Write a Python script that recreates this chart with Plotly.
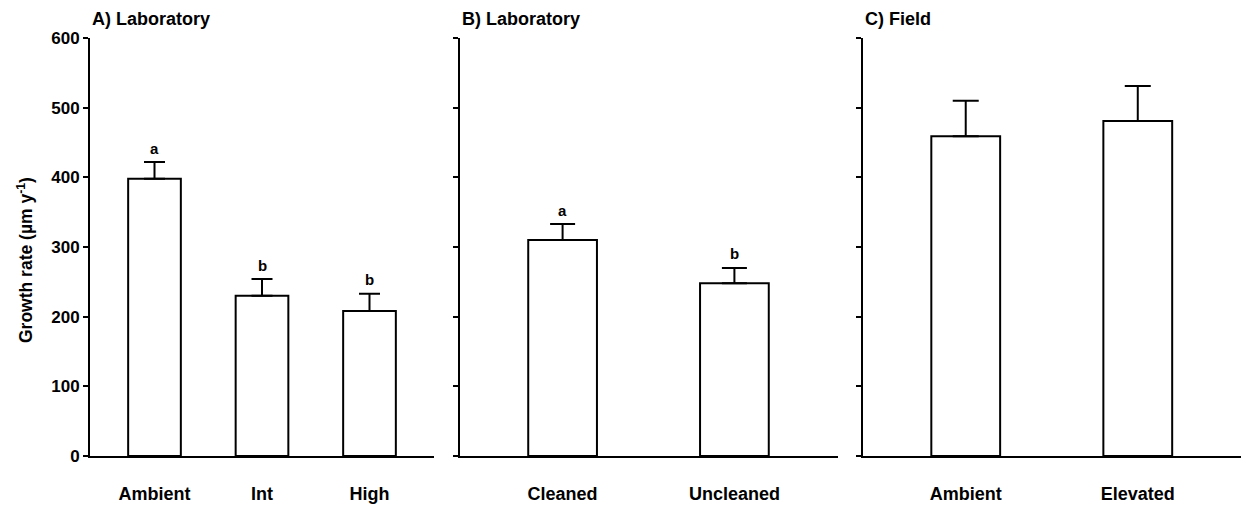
import plotly.graph_objects as go

# Data
cats_a = ["Ambient", "Int", "High"]
vals_a = [398, 230, 208]
se_a = [24, 24, 25]
letters_a = ["a", "b", "b"]

cats_b = ["Cleaned", "Uncleaned"]
vals_b = [310, 248]
se_b = [23, 22]
letters_b = ["a", "b"]

cats_c = ["Ambient", "Elevated"]
vals_c = [459, 481]
se_c = [51, 50]

titles = ["A) Laboratory", "B) Laboratory", "C) Field"]
y_ticks = [0, 100, 200, 300, 400, 500, 600]

W, H = 1241, 506
FONT = "Liberation Sans, Arial, sans-serif"

def px_x(p):
    return p / W

def px_y(p):
    return (H - p) / H

doms = [(px_x(90), px_x(434)), (px_x(459.5), px_x(837.5)), (px_x(862.5), 1.0)]
ydom = (px_y(456), px_y(38))

fig = go.Figure()

panels = [
    (cats_a, vals_a, se_a, letters_a, 0.49, 10.5, [-0.6, 2.6]),
    (cats_b, vals_b, se_b, letters_b, 0.40, 12.5, [-0.6, 1.6]),
    (cats_c, vals_c, se_c, None, 0.40, 13, [-0.6, 1.6]),
]

layout = dict(
    width=W, height=H,
    margin=dict(l=0, r=0, t=0, b=0, autoexpand=False),
    plot_bgcolor="white", paper_bgcolor="white",
    showlegend=False,
    font=dict(family=FONT, color="black"),
)

annotations = []
for i, (cats, vals, se, letters, bw, capw, xr) in enumerate(panels):
    xa = "x" if i == 0 else f"x{i+1}"
    ya = "y" if i == 0 else f"y{i+1}"
    fig.add_trace(go.Bar(
        x=cats, y=vals, width=bw,
        marker=dict(color="white", line=dict(color="black", width=2)),
        error_y=dict(type="data", symmetric=False, array=se,
                     arrayminus=[0] * len(se), color="black",
                     thickness=2, width=capw),
        xaxis=xa, yaxis=ya,
    ))
    key = "" if i == 0 else str(i + 1)
    layout["xaxis" + key] = dict(
        domain=list(doms[i]), range=xr, type="category",
        showline=True, linecolor="black", linewidth=2,
        ticks="", showgrid=False, zeroline=False, automargin=False,
        tickfont=dict(family=FONT, size=18, color="black", weight="bold"),
        ticklabelstandoff=20,
        anchor=ya,
    )
    layout["yaxis" + key] = dict(
        domain=list(ydom), range=[0, 600],
        tickvals=y_ticks,
        showticklabels=(i == 0),
        showline=True, linecolor="black", linewidth=2,
        ticks="outside", ticklen=5, tickwidth=1.5, tickcolor="black",
        showgrid=False, zeroline=False, automargin=False,
        tickfont=dict(family=FONT, size=17, color="black", weight="bold"),
        anchor=xa,
    )
    annotations.append(dict(
        text=titles[i], xref=f"{xa} domain", x=0, xanchor="left",
        yref="paper", y=px_y(19), yanchor="middle", showarrow=False,
        font=dict(family=FONT, size=18, color="black", weight="bold"),
    ))
    if letters:
        for c, v, s, l in zip(cats, vals, se, letters):
            annotations.append(dict(
                text=l, x=c, y=v + s, xref=xa, yref=ya,
                yanchor="middle", yshift=14, showarrow=False,
                font=dict(family=FONT, size=15, color="black", weight="bold"),
            ))

annotations.append(dict(
    text="Growth rate (µm y<sup>-1</sup>)", textangle=-90,
    xref="paper", x=px_x(25), xanchor="center",
    yref="paper", y=px_y(260), yanchor="middle", showarrow=False,
    font=dict(family=FONT, size=17.5, color="black", weight="bold"),
))

layout["annotations"] = annotations
fig.update_layout(**layout)
fig.write_html("out.html")
